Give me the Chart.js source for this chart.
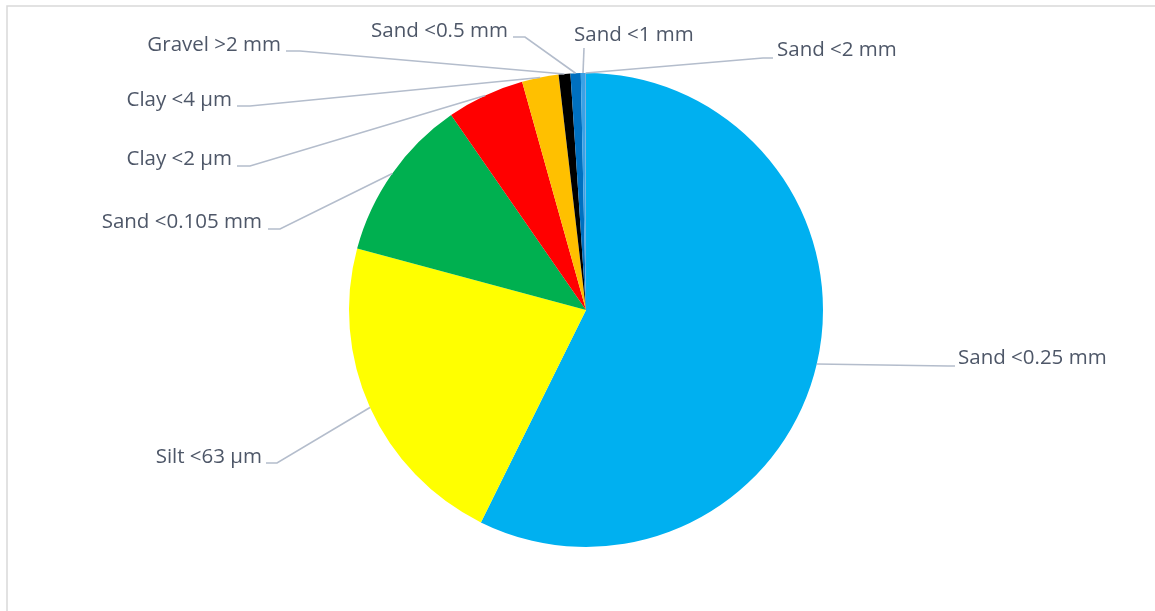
<!DOCTYPE html>
<html>
<head>
<meta charset="utf-8">
<script src="https://cdn.jsdelivr.net/npm/chart.js@4"></script>
<style>
  html, body { margin: 0; padding: 0; background: #fff; }
  #wrap { width: 1155px; height: 611px; position: relative; }
</style>
</head>
<body>
<div id="wrap"><canvas id="pieChart" width="1155" height="611"></canvas></div>
<script>
// chart data
const categories = ['Sand <0.25 mm', 'Silt <63 µm', 'Sand <0.105 mm', 'Clay <2 µm', 'Clay <4 µm',
                    'Gravel >2 mm', 'Sand <0.5 mm', 'Sand <1 mm', 'Sand <2 mm'];
const shares = [57.4, 21.9, 11.2, 5.3, 2.5, 0.8, 0.7, 0.3, 0.05];
const sliceColors = ['#00B0F0', '#FFFF00', '#00B050', '#FF0000', '#FFC000',
                     '#000000', '#0070C0', '#3AA2E6', '#5B9BD5'];

// where each label sits (text anchor + leader elbow/end)
const labelLayout = [
  { tx: 958, ty: 358, align: 'left',   pts: [[948, 366], [955, 366]] },
  { tx: 262, ty: 457, align: 'right',  pts: [[277, 463], [266, 463]] },
  { tx: 262, ty: 222, align: 'right',  pts: [[280, 229], [268, 229]] },
  { tx: 232, ty: 159, align: 'right',  pts: [[250, 166], [237, 166]] },
  { tx: 232, ty: 100, align: 'right',  pts: [[250, 106], [237, 106]] },
  { tx: 281, ty: 45,  align: 'right',  pts: [[300, 51], [286, 51]] },
  { tx: 508, ty: 31,  align: 'right',  pts: [[525, 37], [513, 37]] },
  { tx: 574, ty: 35,  align: 'left',   pts: [[584, 48]] },
  { tx: 777, ty: 50,  align: 'left',   pts: [[763, 58], [773, 58]] }
];

const framePlugin = {
  id: 'frame',
  beforeDraw(chart) {
    const c = chart.ctx;
    c.save();
    c.fillStyle = '#fff';
    c.fillRect(0, 0, chart.width, chart.height);
    c.strokeStyle = '#d9d9d9';
    c.lineWidth = 1.5;
    c.beginPath();
    c.moveTo(7, chart.height);
    c.lineTo(7, 6);
    c.lineTo(chart.width, 6);
    c.stroke();
    c.restore();
  }
};

const leaderLabels = {
  id: 'leaderLabels',
  afterDatasetsDraw(chart) {
    const c = chart.ctx;
    const meta = chart.getDatasetMeta(0);
    c.save();
    meta.data.forEach((arc, i) => {
      const p = arc.getProps(['x', 'y', 'startAngle', 'endAngle', 'outerRadius'], true);
      const mid = (p.startAngle + p.endAngle) / 2;
      const ex = p.x + Math.cos(mid) * p.outerRadius;
      const ey = p.y + Math.sin(mid) * p.outerRadius;
      const lay = labelLayout[i];

      c.strokeStyle = '#b4bdcc';
      c.lineWidth = 1.6;
      c.beginPath();
      c.moveTo(ex, ey);
      lay.pts.forEach(pt => c.lineTo(pt[0], pt[1]));
      c.stroke();

      c.fillStyle = '#4e5768';
      c.font = '20.5px "Open Sans"';
      c.textAlign = lay.align;
      c.textBaseline = 'middle';
      c.fillText(chart.data.labels[i], lay.tx, lay.ty);
    });
    c.restore();
  }
};

const ctx = document.getElementById('pieChart').getContext('2d');
const pieChart = new Chart(ctx, {
  type: 'pie',
  data: {
    labels: categories,
    datasets: [{
      data: shares,
      backgroundColor: sliceColors,
      borderWidth: 0
    }]
  },
  options: {
    responsive: false,
    animation: false,
    layout: { padding: { top: 73, bottom: 64, left: 349, right: 332 } },
    plugins: {
      legend: { display: false },
      tooltip: { enabled: false }
    }
  },
  plugins: [framePlugin, leaderLabels]
});
</script>
</body>
</html>
